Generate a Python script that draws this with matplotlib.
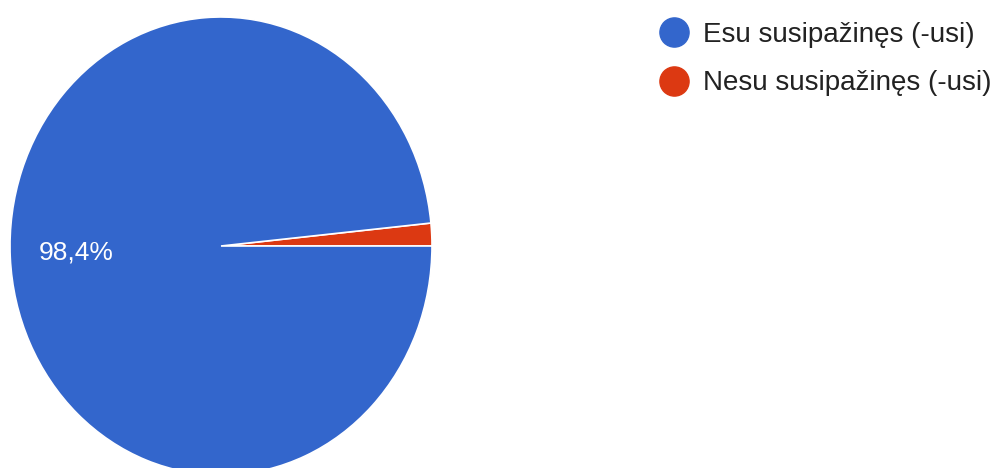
import matplotlib
matplotlib.use('Agg')
import matplotlib.pyplot as plt
from matplotlib.lines import Line2D

plt.rcParams['font.family'] = ['Liberation Sans', 'DejaVu Sans']

# data
labels = ['Esu susipažinęs (-usi)', 'Nesu susipažinęs (-usi)']
shares = [98.4, 1.6]
colors = ['#3366CC', '#DC3912']

fig = plt.figure(figsize=(9.99, 4.68), dpi=100)
# pie area is slightly squashed horizontally in the reference
ax = fig.add_axes([10 / 999, 1 - 475 / 468, 422 / 999, 458 / 468])

wedges, texts = ax.pie(shares[::-1], colors=colors[::-1], startangle=0,
                       counterclock=True, radius=1,
                       wedgeprops=dict(edgecolor='white', linewidth=1.2))
ax.set_aspect('auto')
ax.set_xlim(-1, 1)
ax.set_ylim(-1, 1)
ax.axis('off')

# percentage label of the big slice
pct = '{:.1f}%'.format(shares[0]).replace('.', ',')
ax.text(-0.687, -0.03, pct, color='white', fontsize=19, ha='center', va='center')

handles = [Line2D([], [], marker='o', linestyle='none', markersize=21,
                  markerfacecolor=c, markeredgecolor=c) for c in colors]
leg = fig.legend(handles, labels, loc='upper left', bbox_to_anchor=(656 / 999, 1 - 22 / 468),
                 frameon=False, fontsize=20, labelspacing=0.8, handletextpad=0.38,
                 handlelength=1.3, borderaxespad=0, borderpad=0)
for t in leg.get_texts():
    t.set_color('#222222')

fig.savefig('out.png', dpi=100)
